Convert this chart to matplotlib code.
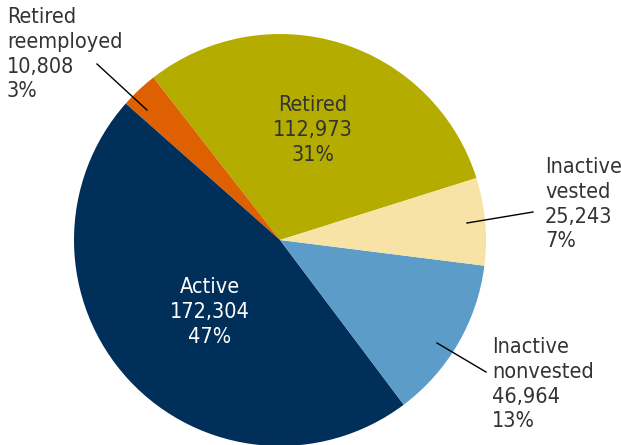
import matplotlib.pyplot as plt
from matplotlib import font_manager
from matplotlib.font_manager import FontProperties

# look for a narrow face; fall back to plain DejaVu Sans
narrow = None
for f in font_manager.fontManager.ttflist:
    fn = f.fname.lower()
    if 'narrow' in fn or 'sanscondensed.' in fn or 'condensed-regular' in fn:
        if 'bold' not in fn and 'oblique' not in fn and 'italic' not in fn:
            narrow = f.fname
            break
fs = 15.5
if narrow:
    fp = FontProperties(fname=narrow, size=fs)
else:
    fp = FontProperties(family='DejaVu Sans', stretch='condensed', size=fs)

# data, counterclockwise from the right
categories = ['Retired', 'Retired\nreemployed', 'Active', 'Inactive\nnonvested', 'Inactive\nvested']
members = [112973, 10808, 172304, 46964, 25243]
percents = ['31%', '3%', '47%', '13%', '7%']
colors = ['#B4AD00', '#DE6000', '#00305A', '#5B9DC8', '#F7E3A6']

fig = plt.figure(figsize=(6.21, 4.45), dpi=100)
ax = fig.add_axes([0, 0, 1, 1])

cx, cy, r = 280, 205, 206
ax.pie(members, colors=colors, startangle=17.5, counterclock=True,
       center=(cx, cy), radius=r, frame=True,
       wedgeprops=dict(linewidth=0))
ax.set_xlim(0, 621)
ax.set_ylim(0, 445)
ax.set_aspect('equal')
ax.axis('off')

def lab(i):
    return '%s\n%s\n%s' % (categories[i], format(members[i], ','), percents[i])

txt = '#333333'
ls = 1.3
# inside labels
ax.text(313, 315, lab(0), ha='center', va='center', color=txt,
        linespacing=ls, fontproperties=fp)
ax.text(210, 133, lab(2), ha='center', va='center', color='white',
        linespacing=ls, fontproperties=fp)

# outside labels with leader lines
ax.text(7, 438, lab(1), ha='left', va='top', color=txt,
        linespacing=ls, fontproperties=fp)
ax.plot([97, 147], [445 - 64, 445 - 110], color='black', lw=1)

ax.text(545, 288, lab(4), ha='left', va='top', color=txt,
        linespacing=ls, fontproperties=fp)
ax.plot([533, 467], [445 - 212, 445 - 223], color='black', lw=1)

ax.text(492, 108, lab(3), ha='left', va='top', color=txt,
        linespacing=ls, fontproperties=fp)
ax.plot([486, 437], [445 - 372, 445 - 343], color='black', lw=1)

fig.savefig('out.png', dpi=100)
